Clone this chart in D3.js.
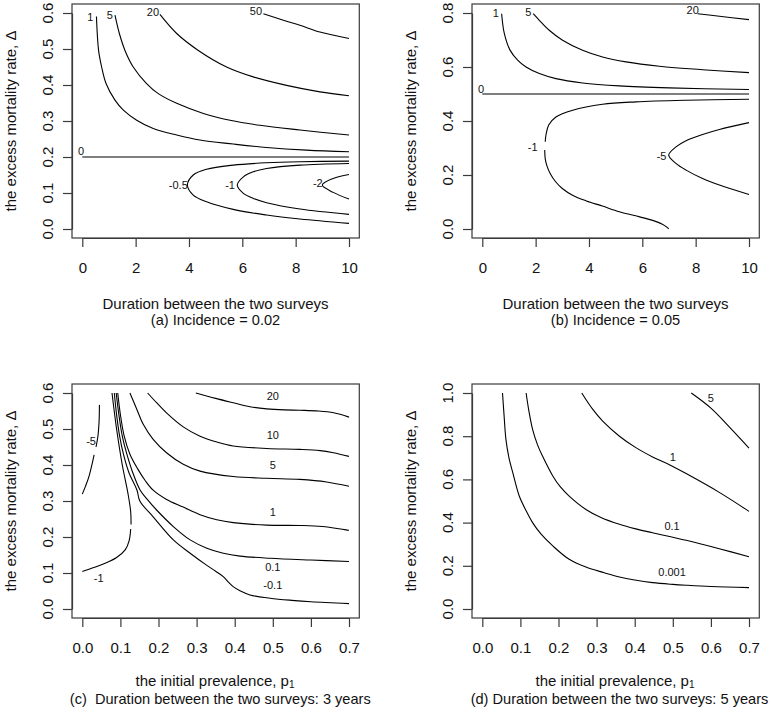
<!DOCTYPE html>
<html><head><meta charset="utf-8">
<script src="https://cdn.jsdelivr.net/npm/d3@7/dist/d3.min.js"></script>
<style>
body{margin:0;background:#fff}
svg{display:block;font-family:Arial,"Liberation Sans",sans-serif}
</style>
</head><body>
<svg id="chart" width="772" height="712"></svg>
<script>
// ---------------- DATA ----------------
// Panel (a): Incidence = 0.02
const aXTicks = [0, 2, 4, 6, 8, 10];
const aYTicks = [0, 0.1, 0.2, 0.3, 0.4, 0.5, 0.6];
const aLevels = ["50", "20", "5", "1", "0", "-0.5", "-1", "-2"];
const aLines = [
  [[[6.79,0.598],[7.54,0.58],[8.16,0.566],[8.91,0.547],[10,0.529]]],
  [[[2.91,0.596],[3.54,0.543],[4.35,0.496],[5.41,0.45],[6.41,0.4225],[7.66,0.399],[8.91,0.381],[10,0.37]]],
  [[[1.225,0.594],[1.39,0.543],[1.6,0.496],[1.91,0.45],[2.41,0.404],[2.85,0.376],[3.54,0.349],[4.54,0.321],[5.54,0.302],[6.66,0.288],[8.16,0.275],[10,0.261]]],
  [[[0.53,0.59],[0.61,0.496],[0.725,0.45],[0.89,0.404],[1.225,0.358],[1.54,0.33],[2.04,0.302],[2.66,0.279],[3.54,0.261],[4.41,0.247],[5.66,0.236],[6.91,0.2265],[8.41,0.219],[10,0.2145]]],
  [[[0,0.2],[10,0.2]]],
  [[[10,0.1886],[8.16,0.187],[6.91,0.184],[5.66,0.1775],[4.66,0.166],[4.16,0.15],[3.94,0.122],[4.16,0.0943],[4.66,0.0758],[5.66,0.0545],[6.91,0.0388],[8.16,0.0277],[10,0.0157]]],
  [[[10,0.182],[8.16,0.1775],[6.91,0.168],[6.41,0.159],[6.04,0.145],[5.81,0.122],[6.04,0.0989],[6.41,0.085],[6.91,0.073],[8.16,0.0555],[10,0.0407]]],
  [[[10,0.1516],[9.41,0.1405],[9.0,0.122],[9.41,0.1017],[10,0.0832]]]
];
const aLabelAt = [[6.51,0.6055],[2.65,0.6036],[1.03,0.594],[0.3,0.588],[-0.05,0.2175],[3.6,0.122],[5.54,0.121],[8.83,0.127]];

// Panel (b): Incidence = 0.05
const bXTicks = [0, 2, 4, 6, 8, 10];
const bYTicks = [0, 0.2, 0.4, 0.6, 0.8];
const bLevels = ["20", "5", "1", "0", "-1", "-5"];
const bLines = [
  [[[8.075,0.7975],[8.89,0.7877],[10,0.7753]]],
  [[[1.91,0.7975],[2.14,0.773],[2.51,0.736],[3.01,0.699],[3.76,0.662],[4.51,0.637],[5.39,0.619],[6.64,0.603],[8.26,0.59],[10,0.579]]],
  [[[0.725,0.7975],[0.825,0.7245],[1.04,0.6625],[1.325,0.6255],[1.64,0.6],[2.14,0.5757],[2.76,0.557],[3.76,0.541],[5.14,0.53],[7.01,0.5227],[10,0.5165]]],
  [[[0,0.5],[10,0.5]]],
  [[[10,0.4807],[7.64,0.477],[5.76,0.471],[4.51,0.462],[3.39,0.44],[2.76,0.415],[2.49,0.385],[2.39,0.35],[2.36,0.323]],
   [[2.34,0.293],[2.36,0.26],[2.42,0.235],[2.55,0.205],[2.75,0.175],[3.0,0.15],[3.4,0.124],[3.9,0.104],[4.5,0.085],[5.14,0.064],[5.9,0.045],[6.39,0.032],[6.75,0.018],[6.92,0.007],[6.99,0]]],
  [[[10,0.394],[8.89,0.3686],[8.26,0.35],[7.64,0.327],[7.26,0.304],[6.99,0.274],[7.26,0.243],[7.64,0.218],[8.26,0.187],[8.89,0.163],[10,0.128]]]
];
const bLabelAt = [[7.89,0.81],[1.725,0.804],[0.51,0.801],[-0.05,0.517],[1.89,0.304],[6.72,0.27]];

// Panel (c): duration 3 years
const cXTicks = [0, 0.1, 0.2, 0.3, 0.4, 0.5, 0.6, 0.7];
const cYTicks = [0, 0.1, 0.2, 0.3, 0.4, 0.5, 0.6];
const cLevels = ["20", "10", "5", "1", "0.1", "-0.1", "-1", "-5"];
const cLines = [
  [[[0.298,0.6],[0.35,0.585],[0.396,0.573],[0.44,0.562],[0.484,0.556],[0.53,0.553],[0.571,0.552],[0.62,0.55],[0.66,0.545],[0.7,0.533]]],
  [[[0.1715,0.6],[0.195,0.573],[0.221,0.545],[0.265,0.506],[0.309,0.48],[0.353,0.464],[0.396,0.453],[0.484,0.446],[0.571,0.4435],[0.624,0.44],[0.659,0.434],[0.7,0.424]]],
  [[[0.125,0.6],[0.143,0.555],[0.16,0.513],[0.186,0.471],[0.221,0.434],[0.265,0.402],[0.309,0.383],[0.396,0.368],[0.484,0.363],[0.571,0.36],[0.641,0.353],[0.7,0.341]]],
  [[[0.093,0.6],[0.1,0.54],[0.11,0.48],[0.125,0.43],[0.145,0.39],[0.165,0.357],[0.186,0.33],[0.22,0.305],[0.265,0.283],[0.309,0.262],[0.353,0.248],[0.396,0.24],[0.484,0.233],[0.571,0.232],[0.63,0.229],[0.7,0.2185]]],
  [[[0.089,0.6],[0.096,0.54],[0.105,0.48],[0.117,0.43],[0.132,0.38],[0.152,0.33],[0.17,0.305],[0.195,0.275],[0.239,0.229],[0.283,0.192],[0.327,0.169],[0.37,0.155],[0.414,0.147],[0.493,0.141],[0.6,0.136],[0.7,0.132]]],
  [[[0.084,0.6],[0.09,0.54],[0.098,0.48],[0.108,0.43],[0.122,0.38],[0.1436,0.33],[0.151,0.3],[0.186,0.256],[0.239,0.192],[0.283,0.155],[0.326,0.122],[0.35,0.105],[0.37,0.09],[0.385,0.073],[0.396,0.062],[0.415,0.05],[0.44,0.039],[0.493,0.03],[0.55,0.024],[0.6,0.02],[0.7,0.0148]]],
  [[[0.078,0.6],[0.09,0.5],[0.105,0.4],[0.12,0.32],[0.127,0.27],[0.128,0.235]],
   [[0.127,0.222],[0.123,0.19],[0.113,0.165],[0.09,0.143],[0.06,0.127],[0.03,0.115],[0,0.104]]],
  [[[0.045,0.567],[0.044,0.52],[0.041,0.48],[0.036,0.45]],
   [[0.031,0.428],[0.018,0.37],[0.008,0.34],[0,0.319]]]
];
const cLabelAt = [[0.5,0.592],[0.5,0.483],[0.5,0.399],[0.5,0.27],[0.5,0.116],[0.5,0.066],[0.043,0.085],[0.023,0.465]];

// Panel (d): duration 5 years
const dXTicks = [0, 0.1, 0.2, 0.3, 0.4, 0.5, 0.6, 0.7];
const dYTicks = [0, 0.2, 0.4, 0.6, 0.8, 1.0];
const dLevels = ["5", "1", "0.1", "0.001"];
const dLines = [
  [[[0.5486,1.0],[0.6,0.93],[0.65,0.84],[0.7,0.745]]],
  [[[0.261,1.0],[0.29,0.924],[0.316,0.87],[0.36,0.8],[0.403,0.747],[0.447,0.704],[0.491,0.668],[0.535,0.627],[0.622,0.54],[0.7,0.452]]],
  [[[0.115,1.0],[0.122,0.92],[0.132,0.832],[0.145,0.76],[0.158,0.708],[0.185,0.616],[0.205,0.565],[0.228,0.523],[0.272,0.461],[0.31,0.425],[0.36,0.392],[0.4,0.372],[0.447,0.353],[0.535,0.318],[0.622,0.279],[0.7,0.242]]],
  [[[0.053,1.0],[0.057,0.9],[0.062,0.785],[0.07,0.7],[0.08,0.631],[0.097,0.523],[0.115,0.455],[0.132,0.4],[0.155,0.345],[0.185,0.292],[0.228,0.23],[0.272,0.194],[0.32,0.168],[0.36,0.148],[0.4,0.134],[0.447,0.122],[0.5,0.114],[0.535,0.11],[0.6,0.104],[0.7,0.099]]]
];
const dLabelAt = [[0.6,0.975],[0.5,0.704],[0.498,0.384],[0.498,0.171]];

const yTitle = "the excess mortality rate, \u0394";

// ---------------- LAYOUT ----------------
const panels = [
  {xDomain:[0,10], yDomain:[0,0.6], xRange:[82.3,349], yRange:[229,13], box:[72,4,359.3,238],
   xTicks:aXTicks, yTicks:aYTicks, xFmt:d3.format("d"), yFmt:d3.format(".1f"),
   levels:aLevels, lines:aLines, labelAt:aLabelAt,
   t1:{text:"Duration between the two surveys", cx:215.5, by:309.3},
   t2:{text:"(a) Incidence = 0.02", cx:215.5, by:325.3}},
  {xDomain:[0,10], yDomain:[0,0.8], xRange:[482.3,749], yRange:[229,13], box:[472,4,759.3,238],
   xTicks:bXTicks, yTicks:bYTicks, xFmt:d3.format("d"), yFmt:d3.format(".1f"),
   levels:bLevels, lines:bLines, labelAt:bLabelAt,
   t1:{text:"Duration between the two surveys", cx:615.5, by:309.3},
   t2:{text:"(b) Incidence = 0.05", cx:615.5, by:325.3}},
  {xDomain:[0,0.7], yDomain:[0,0.6], xRange:[82.3,349], yRange:[609,393], box:[72,384,359.3,618],
   xTicks:cXTicks, yTicks:cYTicks, xFmt:d3.format(".1f"), yFmt:d3.format(".1f"),
   levels:cLevels, lines:cLines, labelAt:cLabelAt,
   t1:{text:"the initial prevalence, p", sub:"1", cx:215, by:686},
   t2:{text:"(c)  Duration between the two surveys: 3 years", cx:220.3, by:703.5}},
  {xDomain:[0,0.7], yDomain:[0,1.0], xRange:[482.3,749], yRange:[609,393], box:[472,384,759.3,618],
   xTicks:dXTicks, yTicks:dYTicks, xFmt:d3.format(".1f"), yFmt:d3.format(".1f"),
   levels:dLevels, lines:dLines, labelAt:dLabelAt,
   t1:{text:"the initial prevalence, p", sub:"1", cx:615, by:686},
   t2:{text:"(d) Duration between the two surveys: 5 years", cx:619.5, by:703.5}}
];

const svg = d3.select("#chart");
const FONT = "Arial, 'Liberation Sans', sans-serif";
const INK = "#111";
const FRAME = "#3a3a3a";

panels.forEach(p => {
  const x = d3.scaleLinear().domain(p.xDomain).range(p.xRange);
  const y = d3.scaleLinear().domain(p.yDomain).range(p.yRange);
  const g = svg.append("g");
  const [bx0, by0, bx1, by1] = p.box;

  // contour lines
  const line = d3.line().x(d => x(d[0])).y(d => y(d[1])).curve(d3.curveCatmullRom.alpha(0.5));
  p.lines.forEach(segs => {
    segs.forEach(seg => {
      g.append("path").attr("d", line(seg)).attr("fill", "none")
        .attr("stroke", "#000").attr("stroke-width", 1.1);
    });
  });

  // contour labels
  p.levels.forEach((lv, i) => {
    const [lx, ly] = p.labelAt[i];
    g.append("text").attr("x", x(lx)).attr("y", y(ly))
      .attr("text-anchor", "middle").attr("dy", "0.35em")
      .attr("font-family", FONT).attr("font-size", 11).attr("fill", INK).text(lv);
  });

  // box
  g.append("rect").attr("x", bx0).attr("y", by0).attr("width", bx1 - bx0).attr("height", by1 - by0)
    .attr("fill", "none").attr("stroke", FRAME).attr("stroke-width", 1.2);

  // x axis
  const xa = g.append("g").attr("transform", `translate(0,${by1})`)
    .call(d3.axisBottom(x).tickValues(p.xTicks).tickSize(9).tickSizeOuter(0).tickPadding(15).tickFormat(p.xFmt));
  xa.select(".domain").attr("stroke", FRAME).attr("stroke-width", 1.2);
  xa.selectAll(".tick line").attr("stroke", FRAME).attr("stroke-width", 1.2);
  xa.selectAll(".tick text").attr("font-family", FONT).attr("font-size", 15).attr("fill", INK);

  // y axis (ticks), labels rotated as in R
  const ya = g.append("g").attr("transform", `translate(${bx0},0)`)
    .call(d3.axisLeft(y).tickValues(p.yTicks).tickSize(9).tickSizeOuter(0).tickFormat(""));
  ya.select(".domain").attr("stroke", FRAME).attr("stroke-width", 1.2);
  ya.selectAll(".tick line").attr("stroke", FRAME).attr("stroke-width", 1.2);
  p.yTicks.forEach(v => {
    g.append("text").attr("transform", `translate(${bx0 - 19},${y(v)}) rotate(-90)`)
      .attr("text-anchor", "middle").attr("font-family", FONT).attr("font-size", 15)
      .attr("fill", INK).text(p.yFmt(v));
  });

  // y title
  g.append("text").attr("transform", `translate(${bx0 - 56.5},${(by0 + by1) / 2}) rotate(-90)`)
    .attr("text-anchor", "middle").attr("font-family", FONT).attr("font-size", 15)
    .attr("fill", INK).text(yTitle);

  // x titles
  const t1 = g.append("text").attr("x", p.t1.cx).attr("y", p.t1.by).attr("text-anchor", "middle")
    .attr("font-family", FONT).attr("font-size", 15).attr("fill", INK);
  t1.append("tspan").text(p.t1.text);
  if (p.t1.sub) t1.append("tspan").attr("font-size", 10).attr("dy", 2).text(p.t1.sub);
  g.append("text").attr("x", p.t2.cx).attr("y", p.t2.by).attr("text-anchor", "middle")
    .attr("font-family", FONT).attr("font-size", 14.6).attr("fill", INK)
    .attr("xml:space", "preserve").style("white-space", "pre").text(p.t2.text);
});
</script>
</body></html>
